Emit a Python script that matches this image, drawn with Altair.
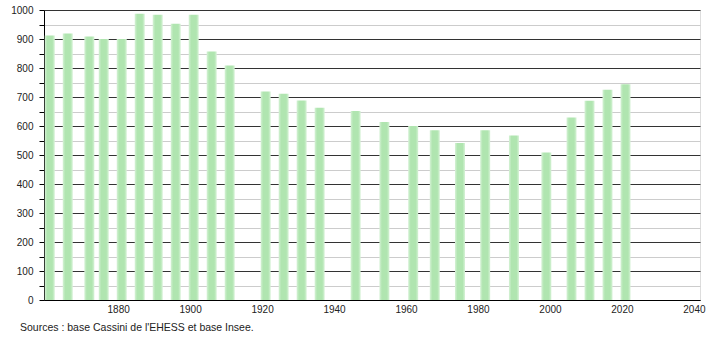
import altair as alt
import pandas as pd

years = [1861, 1866, 1872, 1876, 1881, 1886, 1891, 1896, 1901, 1906, 1911,
         1921, 1926, 1931, 1936, 1946, 1954, 1962, 1968, 1975, 1982, 1990,
         1999, 2006, 2011, 2016, 2021]
population = [912, 919, 909, 900, 900, 987, 984, 953, 984, 857, 809,
              719, 711, 688, 663, 652, 614, 600, 585, 541, 585, 567,
              509, 629, 687, 725, 744]
x_ticks = [1880, 1900, 1920, 1940, 1960, 1980, 2000, 2020, 2040]
y_ticks = list(range(0, 1001, 50))
source_text = "Sources : base Cassini de l'EHESS et base Insee."

df = pd.DataFrame({"year": years, "pop": population})

FONT = "Liberation Sans"

grad = alt.Gradient(
    gradient="linear",
    x1=0, x2=1, y1=0, y2=0,
    stops=[
        alt.GradientStop(color="#d6f2d6", offset=0),
        alt.GradientStop(color="#b0e5b0", offset=0.25),
        alt.GradientStop(color="#b0e5b0", offset=0.75),
        alt.GradientStop(color="#d6f2d6", offset=1),
    ],
)

bars = alt.Chart(df).mark_bar(size=10, color=grad).encode(
    x=alt.X("year:Q",
            scale=alt.Scale(domain=[1859.4, 2041.7], nice=False, zero=False, padding=0),
            axis=alt.Axis(values=x_ticks, format="d", title=None, grid=False,
                          ticks=False, domain=True, domainColor="#000",
                          labelFont=FONT, labelFontSize=10, labelColor="#222",
                          labelPadding=4, labelFlush=False)),
    y=alt.Y("pop:Q",
            scale=alt.Scale(domain=[0, 1000], nice=False, padding=0),
            axis=alt.Axis(values=y_ticks, title=None, grid=True, format="d",
                          gridColor=alt.condition("datum.value % 100 === 0",
                                                  alt.value("#333333"),
                                                  alt.value("#cccccc")),
                          gridWidth=1,
                          labelExpr="datum.value % 100 === 0 ? datum.label : ''",
                          tickSize=5, tickColor="#000", domainColor="#000",
                          labelFont=FONT, labelFontSize=10, labelColor="#222",
                          labelPadding=6)),
)

src = alt.Chart(pd.DataFrame({"t": [source_text]})).mark_text(
    align="left", baseline="middle", font=FONT, fontSize=10.5, color="#222"
).encode(x=alt.value(-24), y=alt.value(318), text="t:N")

chart = alt.layer(bars, src).properties(
    width=656, height=290,
    autosize=alt.AutoSizeParams(type="none"),
    padding={"left": 44, "top": 10, "right": 10, "bottom": 40},
).configure_view(stroke=None).configure(background="white")

chart.save("out.html", embed_options={"renderer": "svg", "actions": False})
